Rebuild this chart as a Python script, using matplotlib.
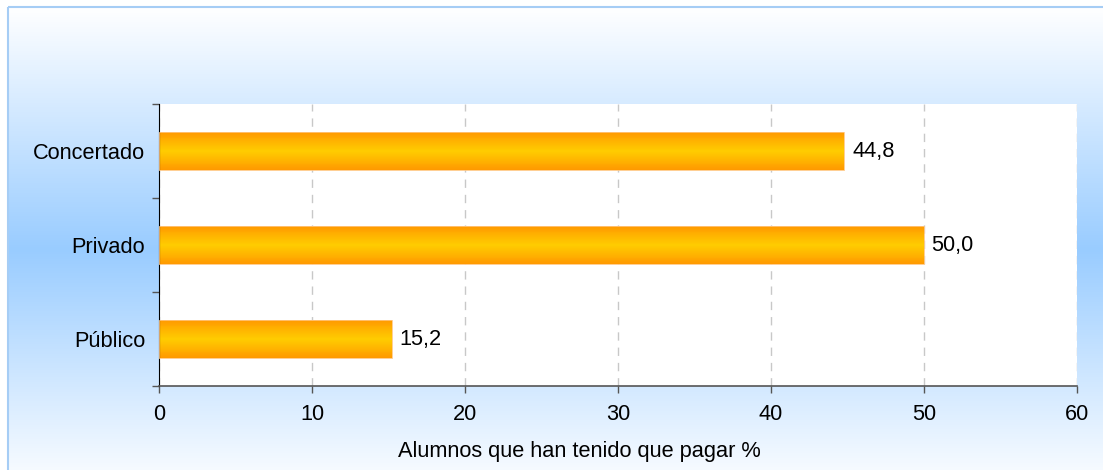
import matplotlib
matplotlib.use('Agg')
import matplotlib.pyplot as plt
import matplotlib.patches as patches
from matplotlib.colors import LinearSegmentedColormap
import numpy as np

plt.rcParams['font.family'] = ['Liberation Sans', 'DejaVu Sans']

# data
categorias = ['Público', 'Privado', 'Concertado']
valores = [15.2, 50.0, 44.8]
etiquetas = ['15,2', '50,0', '44,8']
x_ticks = [0, 10, 20, 30, 40, 50, 60]
x_label = 'Alumnos que han tenido que pagar %'

W, H = 1103, 470
FS = 15.7
fig = plt.figure(figsize=(W / 100, H / 100), dpi=100)
fig.patch.set_facecolor('white')

# background: vertical gradient white -> light blue -> white, with a thin border
bg = fig.add_axes([0, 0, 1, 1], zorder=-1)
bg.set_xlim(0, W)
bg.set_ylim(H, 0)
bg.axis('off')
bg_cmap = LinearSegmentedColormap.from_list('bg', ['#ffffff', '#99ccff', '#ffffff'])
grad = np.linspace(0, 1, 256).reshape(-1, 1)
bg.imshow(grad, cmap=bg_cmap, aspect='auto', extent=[8, W + 10, 492, 7], zorder=0)
bg.add_patch(patches.Rectangle((8, 7), W + 10, H + 10, fill=False,
                               edgecolor='#a6cdf5', linewidth=1.5, zorder=1))

ax = fig.add_axes([159 / W, 1 - 386 / H, (1077 - 159) / W, (386 - 104) / H])
ax.set_facecolor('white')

pos = np.arange(len(categorias))
bars = ax.barh(pos, valores, height=0.41, facecolor='none', edgecolor='none', zorder=3)

# orange -> yellow -> orange fill for each bar, drawn as thin strips
bar_cmap = LinearSegmentedColormap.from_list(
    'bar', [(0, '#ff9900'), (0.5, '#ffcc00'), (1, '#ff9900')])
n_strips = 40
for b in bars:
    x0, y0, w, h = b.get_x(), b.get_y(), b.get_width(), b.get_height()
    for i in range(n_strips):
        ax.add_patch(patches.Rectangle((x0, y0 + h * i / n_strips), w, h / n_strips * 1.05,
                                       facecolor=bar_cmap((i + 0.5) / n_strips),
                                       edgecolor='none', zorder=2))
    ax.add_patch(patches.Rectangle((x0, y0), w, h, fill=False, edgecolor='#ffc680',
                                   linewidth=0.6, zorder=3))

for b, txt in zip(bars, etiquetas):
    ax.text(b.get_width() + 0.5, b.get_y() + b.get_height() / 2, txt,
            va='center', ha='left', fontsize=FS, color='black', zorder=4)

ax.set_xlim(0, 60)
ax.set_ylim(-0.5, len(categorias) - 0.5)
ax.set_xticks(x_ticks)
ax.set_xticklabels([str(t) for t in x_ticks], fontsize=FS)
ax.set_yticks(pos)
ax.set_yticklabels(categorias, fontsize=FS)
ax.set_yticks(np.arange(len(categorias) + 1) - 0.5, minor=True)
ax.tick_params(axis='y', which='major', length=0, pad=10)
ax.tick_params(axis='y', which='minor', length=5, width=1, color='#555555')
ax.tick_params(axis='x', length=5, width=1, color='#555555', pad=8)
ax.set_xlabel(x_label, fontsize=FS)
ax.xaxis.set_label_coords((579 - 159) / (1077 - 159), -(452 - 386) / (386 - 104))
ax.xaxis.label.set_va('center')

ax.grid(axis='x', linestyle=(0, (6, 5)), color='#c8c8c8', linewidth=1, zorder=1)
ax.set_axisbelow(True)
for s in ['top', 'right']:
    ax.spines[s].set_visible(False)
ax.spines['left'].set_color('black')
ax.spines['bottom'].set_color('#555555')
ax.spines['bottom'].set_linewidth(1.2)

fig.savefig('out.png', dpi=100)
